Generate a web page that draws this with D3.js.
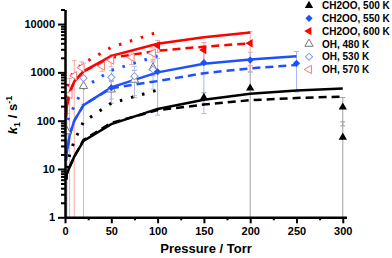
<!DOCTYPE html>
<html>
<head>
<meta charset="utf-8">
<script src="https://cdn.jsdelivr.net/npm/d3@7"></script>
<style>
body { margin: 0; background: #fff; }
text { font-family: Arial, "Liberation Sans", sans-serif; font-weight: bold; }
</style>
</head>
<body>
<svg id="chart" width="392" height="258"></svg>
<script>
// model curves (pressure in Torr, k1 in s-1)
var modelP = [1, 2, 5, 10, 20, 50, 100, 150, 200, 250, 300];
var fit500Solid = [6, 8, 11, 18, 38, 85, 175, 270, 360, 420, 465];
var fit500Dashed = [6, 8, 11, 18, 40, 90, 165, 215, 265, 295, 315];
var fit550Solid = [15, 22, 50, 100, 210, 490, 1000, 1500, 1850, 2150];
var fit550Dashed = [15, 22, 50, 100, 210, 470, 660, 960, 1210, 1420];
var fit600Solid = [120, 200, 380, 650, 1050, 2200, 3900, 5300, 6700];
var fit600Dashed = [120, 200, 380, 650, 1050, 2000, 2800, 3400, 4000];
var dotP = [1, 2, 5, 10, 20, 50, 100];
var dot500 = [6, 9.5, 20, 38, 95, 230, 430];
var dot550 = [60, 90, 130, 200, 480, 1100, 2200];
var dot600 = [300, 480, 750, 1050, 1550, 3300, 6800];

// measured points
var ch2oo500P = [150, 200, 300, 300];
var ch2oo500K = [300, 470, 190, 45];
var ch2oo500Err = [80, 900, 112, 50];
var ch2oo550P = [50, 100, 150, 200, 250];
var ch2oo550K = [480, 1030, 1590, 1800, 1540];
var ch2oo550Err = [200, 900, 1450, 800, 1150];
var ch2oo600P = [100, 150, 200];
var ch2oo600K = [3600, 2900, 4000];
var ch2oo600Err = [1000, 1260, 2950];
var oh480P = [2, 20, 50, 75, 95];
var oh480K = [60, 520, 440, 700, 1250];
var oh480Err = [80, 300, 210, 400, 400];
var oh530P = [20, 50, 75, 95];
var oh530K = [760, 790, 830, 1150];
var oh530Err = [800, 300, 500, 700];
var oh570P = [5, 10, 18, 40, 50, 72, 95];
var oh570K = [350, 850, 1250, 1350, 1800, 2050, 2500];
var oh570Err = [400, 900, 400, 300, 500, 600, 700];

var xTicks = [0, 50, 100, 150, 200, 250, 300];
var yTicks = [1, 10, 100, 1000, 10000];

var svg = d3.select("#chart");
var x = d3.scaleLinear().domain([0, 304]).range([65, 346.5]);
var y = d3.scaleLog().domain([1, 20000]).range([217.3, 9.5]);

function zip(px, ky) {
	var out = [];
	for (var i = 0; i < ky.length; i++) out.push([px[i], ky[i]]);
	return out;
}

var black = "#000", blue = "#1e50ff", red = "#ff0000";

// error bars first so lines sit on top
function errorBars(px, ky, err, color) {
	var g = svg.append("g").attr("stroke", color).attr("stroke-width", 1);
	px.forEach(function(p, i) {
		var cx = x(p);
		var lo = ky[i] - err[i];
		var yTop = y(ky[i] + err[i]);
		var yBot = lo > 1 ? y(lo) : y(1);
		g.append("line").attr("x1", cx).attr("x2", cx).attr("y1", yTop).attr("y2", yBot);
		g.append("line").attr("x1", cx - 2.5).attr("x2", cx + 2.5).attr("y1", yTop).attr("y2", yTop);
		if (lo > 1) g.append("line").attr("x1", cx - 2.5).attr("x2", cx + 2.5).attr("y1", yBot).attr("y2", yBot);
	});
}
errorBars(oh480P, oh480K, oh480Err, "#aaaaaa");
errorBars(oh530P, oh530K, oh530Err, "#b4c0f4");
errorBars(oh570P, oh570K, oh570Err, "#f6aaaa");
errorBars(ch2oo500P, ch2oo500K, ch2oo500Err, "#a0a0a0");
errorBars(ch2oo550P, ch2oo550K, ch2oo550Err, "#aab6f2");
errorBars(ch2oo600P, ch2oo600K, ch2oo600Err, "#f4a0a0");

// curves
var line = d3.line().x(function(d) { return x(d[0]); }).y(function(d) { return y(d[1]); });
function curve(px, ky, color, dash) {
	var p = svg.append("path").datum(zip(px, ky))
		.attr("d", line).attr("fill", "none")
		.attr("stroke", color).attr("stroke-width", dash == "dot" ? 3 : 2.5);
	if (dash == "dash") p.attr("stroke-dasharray", "8,5");
	if (dash == "dot") p.attr("stroke-dasharray", "2.5,9");
}
curve(dotP, dot500, black, "dot");
curve(dotP, dot550, blue, "dot");
curve(dotP, dot600, red, "dot");
curve(modelP, fit500Dashed, black, "dash");
curve(modelP, fit550Dashed, blue, "dash");
curve(modelP, fit600Dashed, red, "dash");
curve(modelP, fit500Solid, black, "solid");
curve(modelP, fit550Solid, blue, "solid");
curve(modelP, fit600Solid, red, "solid");

// markers
var triUp = d3.symbol().type(d3.symbolTriangle).size(30);
var diamond = d3.symbol().type(d3.symbolSquare).size(26);
function markers(px, ky, shape, rot, fill, stroke) {
	svg.append("g").selectAll("path").data(zip(px, ky)).enter().append("path")
		.attr("d", shape)
		.attr("transform", function(d) { return "translate(" + x(d[0]) + "," + y(d[1]) + ") rotate(" + rot + ")"; })
		.attr("fill", fill).attr("stroke", stroke).attr("stroke-width", 1);
}
markers(oh480P, oh480K, triUp, 0, "#fff", "#777");
markers(oh530P, oh530K, diamond, 45, "#fff", "#8898f0");
markers(oh570P, oh570K, triUp, -90, "#fff", "#f07a7a");
markers(ch2oo500P, ch2oo500K, triUp, 0, black, "none");
markers(ch2oo550P, ch2oo550K, diamond, 45, blue, "none");
markers(ch2oo600P, ch2oo600K, triUp, -90, red, "none");

// axes
var minorY = [];
yTicks.forEach(function(t) { for (var m = 2; m <= 9; m++) if (t * m <= 20000) minorY.push(t * m); });
var minorX = [25, 75, 125, 175, 225, 275];

svg.append("g").attr("transform", "translate(65,0)")
	.call(d3.axisLeft(y).tickValues(yTicks).tickFormat(d3.format("d")).tickSize(7).tickPadding(3).tickSizeOuter(0));
svg.append("g").attr("transform", "translate(65,0)")
	.call(d3.axisLeft(y).tickValues(minorY).tickFormat("").tickSize(4).tickSizeOuter(0))
	.select(".domain").remove();
svg.append("g").attr("transform", "translate(0,217.3)")
	.call(d3.axisBottom(x).tickValues(xTicks).tickSize(6).tickPadding(4).tickSizeOuter(0));
svg.append("g").attr("transform", "translate(0,217.3)")
	.call(d3.axisBottom(x).tickValues(minorX).tickFormat("").tickSize(3).tickSizeOuter(0))
	.select(".domain").remove();

svg.selectAll(".domain").attr("stroke", "#000").attr("stroke-width", 2.5);
svg.selectAll(".tick line").attr("stroke", "#000").attr("stroke-width", 2);
svg.selectAll(".tick text").attr("font-size", 11).attr("font-family", "Arial, 'Liberation Sans', sans-serif")
	.attr("font-weight", "bold").attr("fill", "#000");

// axis titles
svg.append("text").attr("x", 206).attr("y", 253).attr("text-anchor", "middle")
	.attr("font-size", 13).text("Pressure / Torr");
var yl = svg.append("text").attr("transform", "translate(17,115) rotate(-90)")
	.attr("text-anchor", "middle").attr("font-size", 13);
yl.append("tspan").attr("font-style", "italic").text("k");
yl.append("tspan").attr("font-size", 9).attr("dy", 3).text("1");
yl.append("tspan").attr("dy", -3).text(" / s");
yl.append("tspan").attr("font-size", 9).attr("dy", -5).text("-1");

// legend
var legendLabels = ["CH2OO, 500 K", "CH2OO, 550 K", "CH2OO, 600 K", "OH, 480 K", "OH, 530 K", "OH, 570 K"];
var legendStyle = [
	[triUp, 0, black, "none"], [diamond, 45, blue, "none"], [triUp, -90, red, "none"],
	[triUp, 0, "#fff", "#777"], [diamond, 45, "#fff", "#8898f0"], [triUp, -90, "#fff", "#f07a7a"]
];
legendLabels.forEach(function(lab, i) {
	var ry = 5.5 + i * 12.8;
	var s = legendStyle[i];
	svg.append("path").attr("d", s[0])
		.attr("transform", "translate(309," + ry + ") rotate(" + s[1] + ")")
		.attr("fill", s[2]).attr("stroke", s[3]).attr("stroke-width", 1);
	svg.append("text").attr("x", 322).attr("y", ry + 3.6).attr("font-size", 10).text(lab);
});
</script>
</body>
</html>
